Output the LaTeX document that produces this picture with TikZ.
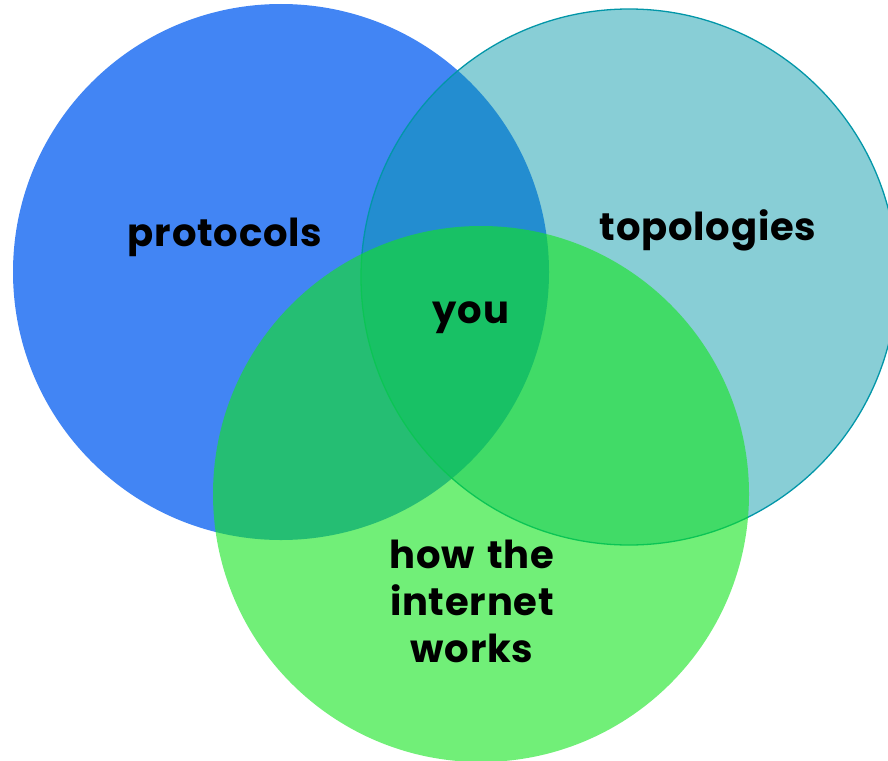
\documentclass[tikz,border=0pt]{standalone}
\usepackage{fontspec}
\setmainfont{Poppins}[BoldFont={* Bold}, LetterSpace=2, WordSpace=1.4]
\definecolor{vblue}{RGB}{66,133,244}
\definecolor{vteal}{RGB}{2,150,168}
\definecolor{vgreen}{RGB}{18,228,30}
\tikzset{
  lbl/.style={font=\fontsize{38.5}{47}\selectfont\bfseries, text=black, align=center, inner sep=0pt},
}
\begin{document}
\begin{tikzpicture}[x=1pt,y=-1pt]
\useasboundingbox (0,0) rectangle (888,760);
\clip (0,0) rectangle (888,760);
\fill[vblue] (281,272) circle[radius=268];
\draw[vteal, line width=1.3pt, fill=vteal, fill opacity=0.47] (629,277) circle[radius=268];
\fill[vgreen, fill opacity=0.6] (481,494) circle[radius=268];
\node[lbl] (protocols) at (225,237) {protocols};
\node[lbl] (topologies) at (708,230) {topologies};
\node[lbl] (you) at (471,318) {you};
\node[lbl] (how) at (472,601) {how the\\internet\\works};
\end{tikzpicture}
\end{document}
